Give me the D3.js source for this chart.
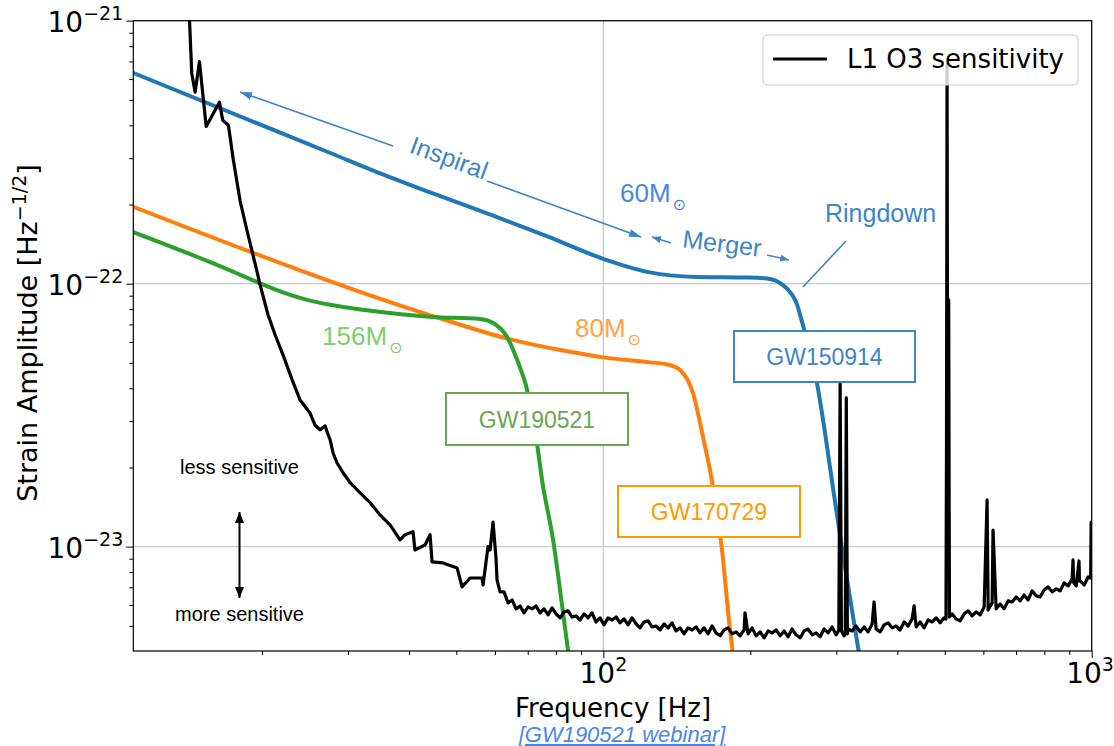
<!DOCTYPE html>
<html>
<head>
<meta charset="utf-8">
<script src="https://cdn.jsdelivr.net/npm/d3@7"></script>
<style>
  body { margin: 0; background: #ffffff; }
</style>
</head>
<body>
<div id="chart"></div>
<script>
// L1 O3 sensitivity vs. waveform amplitudes of three events
// values: [frequency Hz, strain amplitude]

const gw150914Curve = [
  [10.9, 6.33e-22], [27.6, 3.14e-22], [34.9, 2.627e-22], [44.17, 2.224e-22], [56.0, 1.891e-22],
  [76.8, 1.513e-22], [99.9, 1.243e-22], [122.9, 1.109e-22], [155.5, 1.061e-22], [197, 1.055e-22],
  [216.3, 1.047e-22], [224.7, 1.029e-22], [232.2, 9.94e-23], [238.9, 9.47e-23], [244.6, 8.95e-23],
  [249.2, 8.34e-23], [254.0, 7.38e-23], [260.0, 6.30e-23], [267.5, 5.11e-23], [273.8, 4.19e-23],
  [284.4, 2.705e-23], [295, 1.69e-23], [307.8, 1.0e-23], [330.4, 4.42e-24], [338.6, 3.34e-24]
];

const gw170729Curve = [
  [10.9, 1.96e-22], [23.93, 1.124e-22], [33.3, 9.03e-23], [46.3, 7.38e-23], [63.5, 6.19e-23],
  [84.3, 5.53e-23], [100, 5.245e-23], [124.6, 5.02e-23], [135, 4.934e-23], [143.5, 4.70e-23],
  [152.6, 3.84e-23], [160, 2.61e-23], [167.7, 1.69e-23], [175, 9.7e-24], [181.7, 4.82e-24],
  [185, 3.7e-24]
];

const gw190521Curve = [
  [10.9, 1.57e-22], [17.2, 1.124e-22], [19.82, 1.003e-22], [21.78, 9.35e-23], [23.93, 8.83e-23],
  [27.57, 8.31e-23], [32.8, 7.92e-23], [44.8, 7.47e-23], [55.9, 7.34e-23], [59.5, 7.09e-23],
  [63.5, 6.27e-23], [66.6, 5.13e-23], [69.8, 3.94e-23], [73.1, 2.48e-23], [74.9, 1.79e-23],
  [78.9, 1.06e-23], [82.7, 5.6e-24], [84.7, 4.0e-24], [85.5, 3.55e-24]
];

const l1O3Sensitivity = [
  [14.15, 1.2e-21], [14.36, 6.3e-22], [14.59, 5.35e-22], [14.89, 6.99e-22], [15.37, 3.96e-22],
  [16.36, 4.90e-22], [16.62, 4.18e-22], [17.07, 4.00e-22], [17.45, 2.99e-22], [18.03, 2.07e-22],
  [18.62, 1.60e-22], [19.06, 1.34e-22], [19.51, 1.12e-22], [19.82, 9.9e-23], [20.58, 7.6e-23],
  [21.28, 6.38e-23], [22.08, 5.36e-23], [23.05, 4.31e-23], [23.93, 3.61e-23], [25.08, 3.22e-23],
  [25.68, 2.90e-23], [26.30, 2.78e-23], [26.93, 2.88e-23], [27.18, 2.73e-23], [27.57, 2.55e-23],
  [27.96, 2.27e-23], [28.49, 2.08e-23], [29.31, 1.91e-23], [30.30, 1.75e-23], [31.76, 1.60e-23],
  [33.30, 1.47e-23], [34.89, 1.32e-23], [36.58, 1.21e-23], [38.34, 1.06e-23], [39.25, 1.11e-23],
  [40.76, 1.14e-23], [41.14, 9.71e-24], [43.14, 1.015e-23], [44.17, 1.11e-23], [44.58, 8.75e-24],
  [46.95, 8.67e-24], [50.17, 8.30e-24], [51.36, 7.03e-24], [53.33, 7.60e-24], [56.43, 7.60e-24],
  [56.71, 7.15e-24], [58.05, 1.0e-23], [58.61, 9.71e-24], [59.44, 1.24e-23], [60.29, 9.0e-24],
  [60.57, 7.47e-24], [61.44, 6.73e-24], [62.61, 6.73e-24], [63.80, 6.11e-24], [65.02, 6.27e-24],
  [66.26, 5.80e-24], [67.52, 5.95e-24], [68.80, 5.60e-24], [70.11, 5.90e-24], [71.45, 5.80e-24],
  [72.81, 5.95e-24], [74.20, 5.60e-24], [75.61, 5.80e-24], [77.05, 5.50e-24], [78.52, 5.85e-24],
  [80.01, 5.55e-24], [81.54, 5.36e-24], [83.09, 5.65e-24], [84.67, 5.70e-24], [86.28, 5.40e-24],
  [87.92, 5.45e-24], [89.60, 5.26e-24], [91.30, 5.55e-24], [93.04, 5.36e-24], [94.81, 5.60e-24],
  [96.62, 5.17e-24], [98.46, 5.36e-24], [100.33, 5.04e-24], [102.24, 5.36e-24], [104.19, 5.26e-24],
  [106.17, 5.40e-24], [108.20, 5.13e-24], [110.26, 5.31e-24], [112.36, 5.04e-24], [114.50, 5.36e-24],
  [116.68, 5.08e-24], [118.90, 4.91e-24], [121.16, 5.17e-24], [123.47, 5.22e-24], [125.82, 4.95e-24],
  [128.22, 4.99e-24], [130.66, 4.82e-24], [133.15, 5.08e-24], [135.68, 4.91e-24], [138.27, 5.13e-24],
  [140.90, 4.78e-24], [143.58, 4.91e-24], [146.32, 4.66e-24], [149.10, 4.91e-24], [151.94, 4.82e-24],
  [154.84, 4.95e-24], [157.78, 4.70e-24], [160.79, 4.91e-24], [163.85, 4.66e-24], [166.97, 4.99e-24],
  [170.15, 4.70e-24], [173.39, 4.58e-24], [176.69, 4.82e-24], [180.06, 4.91e-24], [183.49, 4.66e-24],
  [186.98, 4.74e-24], [190.54, 4.58e-24], [194.17, 4.82e-24], [195.0, 5.60e-24], [197.87, 4.66e-24],
  [201.64, 4.91e-24], [205.48, 4.58e-24], [209.39, 4.74e-24], [213.38, 4.50e-24], [217.44, 4.78e-24],
  [221.58, 4.70e-24], [225.80, 4.82e-24], [230.10, 4.58e-24], [234.49, 4.78e-24], [238.95, 4.54e-24],
  [243.50, 4.86e-24], [248.14, 4.62e-24], [252.86, 4.50e-24], [257.68, 4.78e-24], [262.59, 4.86e-24],
  [267.59, 4.62e-24], [272.68, 4.70e-24], [277.88, 4.54e-24], [283.17, 4.86e-24], [288.56, 4.70e-24],
  [294.06, 4.95e-24], [299.66, 4.62e-24], [303.5, 4.80e-24], [305.4, 4.19e-23], [307.3, 4.78e-24],
  [311.18, 4.58e-24], [312.9, 4.70e-24], [314.4, 3.68e-23], [316.0, 4.66e-24], [317.11, 4.86e-24],
  [323.14, 4.78e-24], [329.30, 4.99e-24], [335.57, 4.74e-24], [341.96, 4.95e-24], [348.47, 4.74e-24],
  [355.11, 5.08e-24], [358.4, 6.16e-24], [361.87, 4.86e-24], [368.76, 4.74e-24], [375.78, 5.04e-24],
  [382.94, 5.13e-24], [390.23, 4.91e-24], [397.66, 4.99e-24], [405.23, 4.82e-24], [412.95, 5.17e-24],
  [420.81, 4.99e-24], [428.83, 5.31e-24], [432.8, 5.95e-24], [436.99, 4.95e-24], [445.32, 5.17e-24],
  [453.80, 4.91e-24], [462.44, 5.26e-24], [471.25, 5.17e-24], [480.22, 5.36e-24], [489.37, 5.13e-24],
  [498.69, 5.36e-24], [503.0, 5.30e-24], [504.3, 2.48e-23], [505.6, 6.9e-22], [507.0, 2.48e-23],
  [509.5, 8.67e-23], [511.3, 5.40e-24], [517.86, 5.55e-24], [527.72, 5.31e-24], [537.77, 5.22e-24],
  [548.01, 5.55e-24], [558.45, 5.70e-24], [569.08, 5.45e-24], [579.92, 5.65e-24], [590.96, 5.50e-24],
  [602.22, 5.90e-24], [610.6, 1.505e-23], [613.68, 5.74e-24], [625.37, 6.11e-24], [628.0, 1.157e-23],
  [637.28, 5.80e-24], [649.41, 6.05e-24], [661.78, 5.80e-24], [674.38, 6.22e-24], [687.23, 6.16e-24],
  [700.31, 6.44e-24], [713.65, 6.22e-24], [727.24, 6.55e-24], [741.09, 6.27e-24], [755.20, 6.79e-24],
  [769.58, 6.50e-24], [784.24, 6.44e-24], [799.17, 6.84e-24], [814.39, 7.03e-24], [829.90, 6.73e-24],
  [845.70, 6.91e-24], [861.81, 6.79e-24], [878.22, 7.28e-24], [894.94, 7.09e-24], [911.99, 7.54e-24],
  [915.6, 8.90e-24], [918.5, 7.30e-24], [929.35, 7.09e-24], [941.9, 8.82e-24], [944.0, 7.40e-24],
  [947.05, 7.41e-24], [965.09, 7.15e-24], [983.47, 7.67e-24], [995.0, 7.60e-24], [997.5, 1.24e-23],
  [1001, 1.2e-23]
];

const xMajorTicks = [100, 1000];
const xMinorTicks = [20, 30, 40, 50, 60, 70, 80, 90, 200, 300, 400, 500, 600, 700, 800, 900];
const yMajorTicks = [1e-21, 1e-22, 1e-23];
const yMinorTicks = [
  9e-22, 8e-22, 7e-22, 6e-22, 5e-22, 4e-22, 3e-22, 2e-22,
  9e-23, 8e-23, 7e-23, 6e-23, 5e-23, 4e-23, 3e-23, 2e-23,
  9e-24, 8e-24, 7e-24, 6e-24, 5e-24
];

const width = 1114, height = 746;
const plot = { left: 133.3, right: 1091.7, top: 20.7, bottom: 651 };
const mplFont = "'DejaVu Sans', sans-serif";
const slideFont = "'Liberation Sans', Arial, sans-serif";
const annBlue = "#3d85c6";

const svg = d3.select("#chart")
  .append("svg")
  .attr("width", width)
  .attr("height", height)
  .style("display", "block");

const x = d3.scaleLog().domain([10.9, 1000]).range([plot.left, plot.right]);
const y = d3.scaleLog().domain([4.01e-24, 1e-21]).range([plot.bottom, plot.top]);

const defs = svg.append("defs");
defs.append("clipPath").attr("id", "plot-clip")
  .append("rect")
  .attr("x", plot.left).attr("y", plot.top)
  .attr("width", plot.right - plot.left).attr("height", plot.bottom - plot.top);

function addMarker(id, color, len, wid) {
  defs.append("marker")
    .attr("id", id)
    .attr("viewBox", `0 0 ${len} ${wid}`)
    .attr("refX", len).attr("refY", wid / 2)
    .attr("markerWidth", len).attr("markerHeight", wid)
    .attr("markerUnits", "userSpaceOnUse")
    .attr("orient", "auto-start-reverse")
    .append("path")
    .attr("d", `M0,0L${len},${wid / 2}L0,${wid}Z`)
    .attr("fill", color);
}
addMarker("arrow-blue", annBlue, 12, 8);
addMarker("arrow-blue-small", annBlue, 9, 7);
addMarker("arrow-black", "#000", 11, 9);

// grid (major only)
const grid = svg.append("g").attr("stroke", "#c9c9c9").attr("stroke-width", 1.3);
grid.selectAll(".gx").data(xMajorTicks).join("line")
  .attr("x1", d => x(d)).attr("x2", d => x(d))
  .attr("y1", plot.top).attr("y2", plot.bottom);
grid.selectAll(".gy").data(yMajorTicks).join("line")
  .attr("x1", plot.left).attr("x2", plot.right)
  .attr("y1", d => y(d)).attr("y2", d => y(d));

// curves
const lineGen = d3.line()
  .x(d => x(d[0]))
  .y(d => y(d[1]))
  .curve(d3.curveMonotoneX);

const curves = svg.append("g").attr("clip-path", "url(#plot-clip)");

[
  { data: gw150914Curve, color: "#1f77b4" },
  { data: gw170729Curve, color: "#ff7f0e" },
  { data: gw190521Curve, color: "#2ca02c" }
].forEach(c => {
  curves.append("path")
    .datum(c.data)
    .attr("d", lineGen)
    .attr("fill", "none")
    .attr("stroke", c.color)
    .attr("stroke-width", 4)
    .attr("stroke-linecap", "round");
});

curves.append("path")
  .datum(l1O3Sensitivity)
  .attr("d", d3.line().x(d => x(d[0])).y(d => y(d[1])))
  .attr("fill", "none")
  .attr("stroke", "#000")
  .attr("stroke-width", 3.2)
  .attr("stroke-linejoin", "round");

// axes ticks
const axisX = svg.append("g").attr("transform", `translate(0,${plot.bottom})`);
axisX.append("g")
  .call(d3.axisBottom(x).tickValues(xMinorTicks).tickSize(4).tickFormat(""))
  .call(g => g.select(".domain").remove());
axisX.append("g")
  .call(d3.axisBottom(x).tickValues(xMajorTicks).tickSize(7).tickFormat(""))
  .call(g => g.select(".domain").remove());

const axisY = svg.append("g").attr("transform", `translate(${plot.left},0)`);
axisY.append("g")
  .call(d3.axisLeft(y).tickValues(yMinorTicks).tickSize(4).tickFormat(""))
  .call(g => g.select(".domain").remove());
axisY.append("g")
  .call(d3.axisLeft(y).tickValues(yMajorTicks).tickSize(7).tickFormat(""))
  .call(g => g.select(".domain").remove());

svg.selectAll(".tick line").attr("stroke", "#000").attr("stroke-width", 1);

// tick labels with superscripts (the last one is kept inside the page edge)
svg.append("g").selectAll("text").data(xMajorTicks).join("text")
  .attr("x", d => Math.min(x(d), width - 24))
  .attr("y", plot.bottom + 32)
  .attr("text-anchor", "middle")
  .attr("font-family", mplFont)
  .attr("font-size", 28)
  .attr("fill", "#000")
  .each(function (d) {
    const t = d3.select(this);
    t.append("tspan").text("10");
    t.append("tspan").attr("dy", -12).attr("font-size", 19).text(Math.round(Math.log10(d)));
  });

svg.append("g").selectAll("text").data(yMajorTicks).join("text")
  .attr("x", plot.left - 10)
  .attr("y", d => y(d) + 11)
  .attr("text-anchor", "end")
  .attr("font-family", mplFont)
  .attr("font-size", 28)
  .attr("fill", "#000")
  .each(function (d) {
    const t = d3.select(this);
    t.append("tspan").text("10");
    t.append("tspan").attr("dy", -12).attr("font-size", 19)
      .text("\u2212" + Math.abs(Math.round(Math.log10(d))));
  });

// frame
svg.append("rect")
  .attr("x", plot.left).attr("y", plot.top)
  .attr("width", plot.right - plot.left).attr("height", plot.bottom - plot.top)
  .attr("fill", "none").attr("stroke", "#000").attr("stroke-width", 1.2);

// axis titles
svg.append("text")
  .attr("x", 613).attr("y", 717)
  .attr("text-anchor", "middle")
  .attr("font-family", mplFont).attr("font-size", 26).attr("fill", "#000")
  .text("Frequency [Hz]");

const yTitle = svg.append("text")
  .attr("transform", "translate(37,333) rotate(-90)")
  .attr("text-anchor", "middle")
  .attr("font-family", mplFont).attr("font-size", 27).attr("fill", "#000");
yTitle.append("tspan").text("Strain Amplitude [Hz");
yTitle.append("tspan").attr("dy", -11).attr("font-size", 19).text("\u22121/2");
yTitle.append("tspan").attr("dy", 11).text("]");

svg.append("text")
  .attr("x", 622).attr("y", 742)
  .attr("text-anchor", "middle")
  .attr("font-family", slideFont).attr("font-size", 22)
  .attr("font-style", "italic")
  .attr("text-decoration", "underline")
  .attr("fill", "#4a86e8")
  .text("[GW190521 webinar]");

// legend
const legend = svg.append("g");
legend.append("rect")
  .attr("x", 763).attr("y", 35).attr("width", 315).attr("height", 50)
  .attr("rx", 4)
  .attr("fill", "rgba(255,255,255,0.8)")
  .attr("stroke", "#cccccc").attr("stroke-width", 1);
legend.append("line")
  .attr("x1", 773).attr("x2", 827).attr("y1", 59).attr("y2", 59)
  .attr("stroke", "#000").attr("stroke-width", 2.8);
legend.append("text")
  .attr("x", 847).attr("y", 68)
  .attr("font-family", mplFont).attr("font-size", 26).attr("fill", "#000")
  .text("L1 O3 sensitivity");

// annotations
const ann = svg.append("g");

ann.append("line")
  .attr("x1", 393).attr("y1", 146).attr("x2", 240).attr("y2", 92)
  .attr("stroke", annBlue).attr("stroke-width", 1.6)
  .attr("marker-end", "url(#arrow-blue)");
ann.append("line")
  .attr("x1", 487).attr("y1", 181).attr("x2", 641).attr("y2", 237)
  .attr("stroke", annBlue).attr("stroke-width", 1.6)
  .attr("marker-end", "url(#arrow-blue)");
ann.append("text")
  .attr("transform", "translate(446,166) rotate(20)")
  .attr("text-anchor", "middle")
  .attr("font-family", slideFont).attr("font-size", 25).attr("fill", annBlue)
  .text("Inspiral");

ann.append("line")
  .attr("x1", 671).attr("y1", 243).attr("x2", 652).attr("y2", 237)
  .attr("stroke", annBlue).attr("stroke-width", 1.6)
  .attr("marker-end", "url(#arrow-blue-small)");
ann.append("line")
  .attr("x1", 767).attr("y1", 255).attr("x2", 789).attr("y2", 260)
  .attr("stroke", annBlue).attr("stroke-width", 1.6)
  .attr("marker-end", "url(#arrow-blue-small)");
ann.append("text")
  .attr("transform", "translate(721,252) rotate(7)")
  .attr("text-anchor", "middle")
  .attr("font-family", slideFont).attr("font-size", 25).attr("fill", annBlue)
  .text("Merger");

ann.append("line")
  .attr("x1", 803).attr("y1", 287).attr("x2", 846).attr("y2", 241)
  .attr("stroke", annBlue).attr("stroke-width", 1.6);
ann.append("text")
  .attr("x", 825).attr("y", 222)
  .attr("font-family", slideFont).attr("font-size", 25).attr("fill", annBlue)
  .text("Ringdown");

function massLabel(label, px, py, color) {
  const t = ann.append("text")
    .attr("x", px).attr("y", py)
    .attr("font-family", slideFont).attr("font-size", 26).attr("fill", color);
  t.append("tspan").text(label);
  t.append("tspan")
    .attr("dx", 2).attr("dy", 8)
    .attr("font-family", mplFont).attr("font-size", 16)
    .text("\u2299");
}
massLabel("60M", 620, 202, "#4a86e8");
massLabel("156M", 322, 345, "#7ccf6c");
massLabel("80M", 575, 337, "#ffa43f");

function eventBox(label, x0, y0, x1, y1, color) {
  ann.append("rect")
    .attr("x", x0).attr("y", y0).attr("width", x1 - x0).attr("height", y1 - y0)
    .attr("fill", "#fff").attr("stroke", color).attr("stroke-width", 2);
  ann.append("text")
    .attr("x", (x0 + x1) / 2).attr("y", (y0 + y1) / 2 + 8.5)
    .attr("text-anchor", "middle")
    .attr("font-family", slideFont).attr("font-size", 23).attr("fill", color)
    .text(label);
}
eventBox("GW190521", 446, 393, 628, 445, "#6aa84f");
eventBox("GW150914", 734, 331, 915, 382, "#3d85c6");
eventBox("GW170729", 618, 486, 800, 537, "#ff9900");

ann.append("text")
  .attr("x", 239.5).attr("y", 474)
  .attr("text-anchor", "middle")
  .attr("font-family", slideFont).attr("font-size", 20).attr("fill", "#000")
  .text("less sensitive");
ann.append("text")
  .attr("x", 239.5).attr("y", 621)
  .attr("text-anchor", "middle")
  .attr("font-family", slideFont).attr("font-size", 20).attr("fill", "#000")
  .text("more sensitive");
ann.append("line")
  .attr("x1", 239.5).attr("y1", 512).attr("x2", 239.5).attr("y2", 598)
  .attr("stroke", "#000").attr("stroke-width", 2)
  .attr("marker-start", "url(#arrow-black)")
  .attr("marker-end", "url(#arrow-black)");
</script>
</body>
</html>
